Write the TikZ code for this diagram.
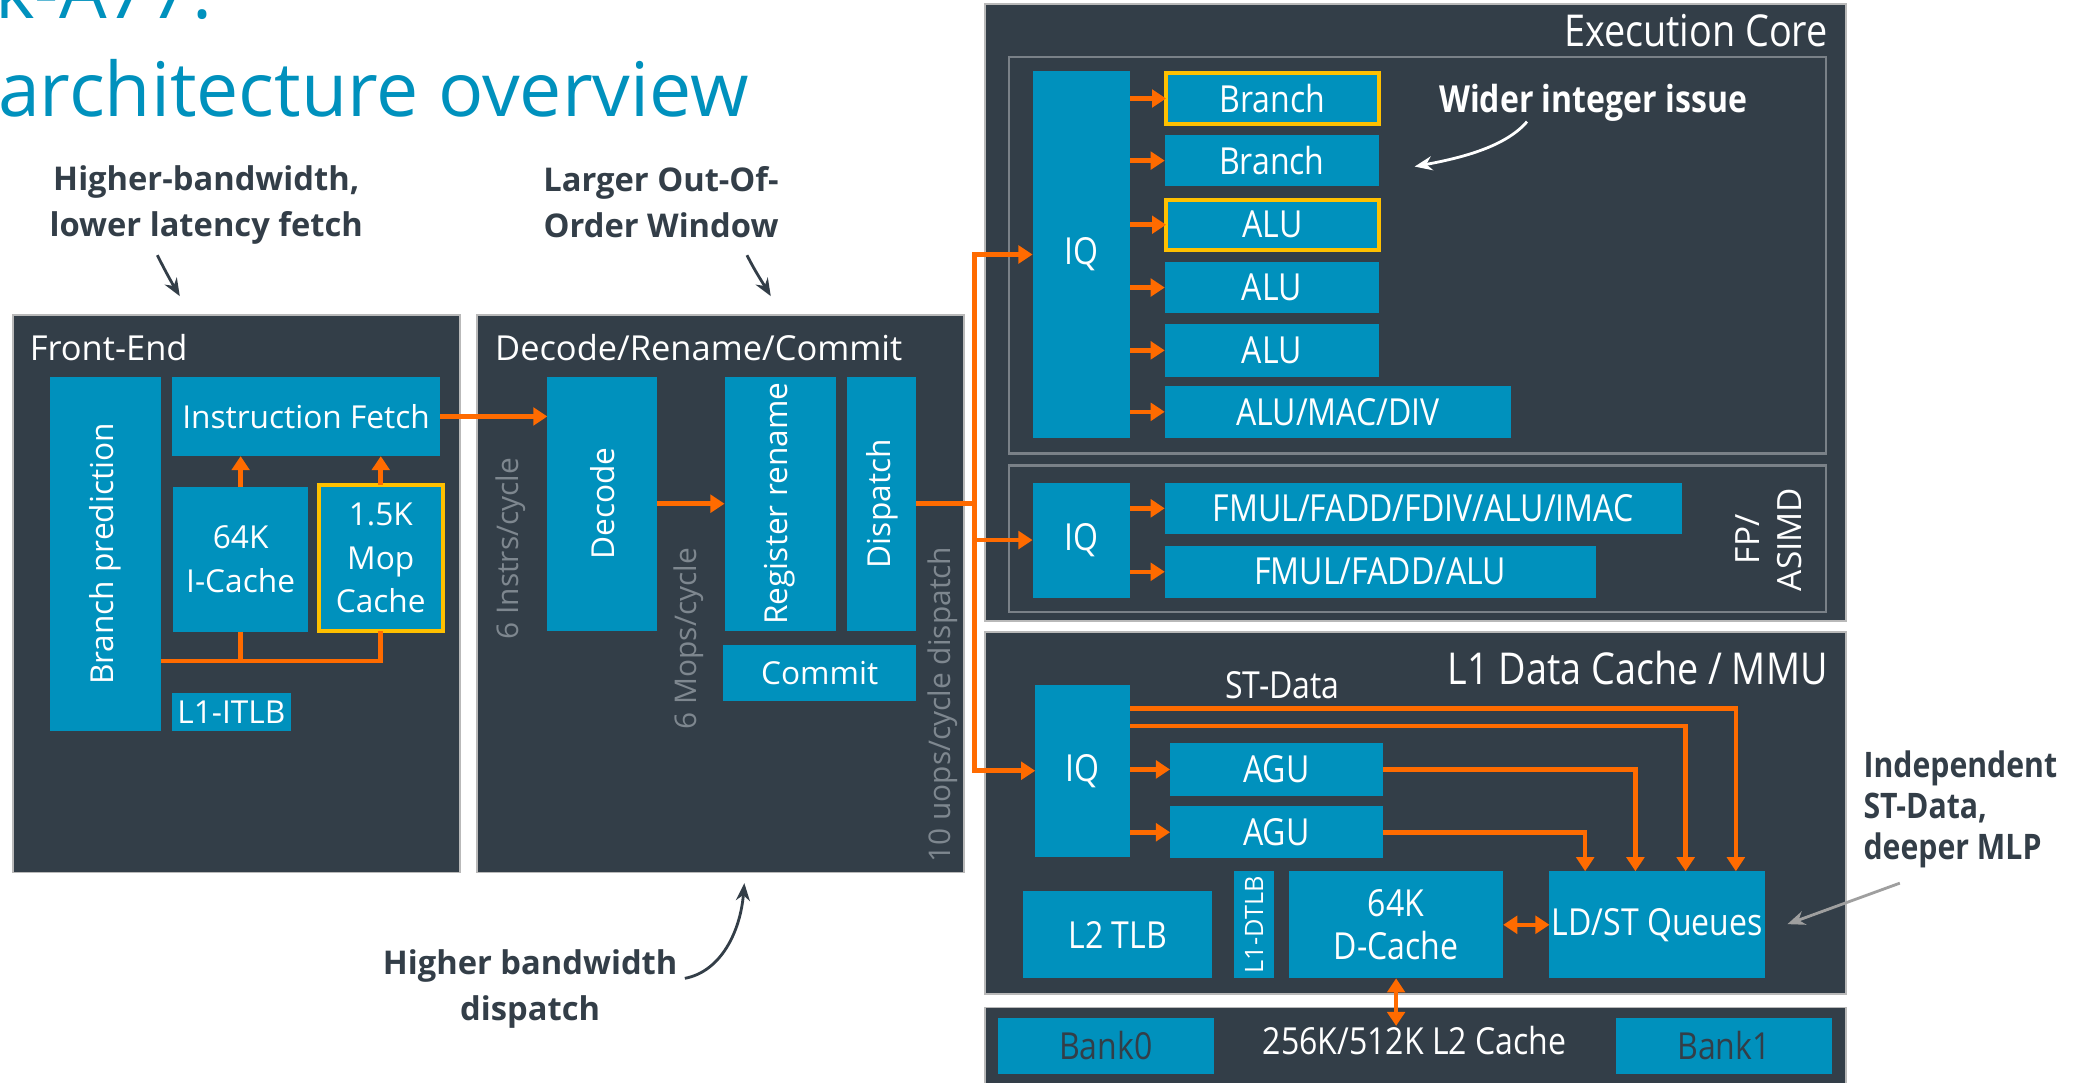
\documentclass[tikz,border=0pt]{standalone}
\usepackage{fontspec}
\setmainfont{Open Sans}
\newfontfamily\cnd{Open Sans}[FakeStretch=0.86]
\usetikzlibrary{arrows.meta}
\definecolor{dk}{HTML}{333E48}
\definecolor{bl}{HTML}{0091BD}
\definecolor{og}{HTML}{FF6B00}
\definecolor{yl}{HTML}{FFC000}
\definecolor{gt}{HTML}{7E878F}
\definecolor{ib}{HTML}{7A8188}
\newdimen\un \un=0.1322mm
\newcommand\fs[2]{\fontsize{#1}{#2}\selectfont}
\newcommand\bx[7][blk]{\node[#1, minimum width={(#5-#3)*\un}, minimum height={(#6-#4)*\un}] (#2) at ({(#3+#5)/2},{(#4+#6)/2}) {#7};}
\tikzset{
 panel/.style={fill=dk, draw=gray!55, line width=0.5pt, inner sep=0pt, outer sep=0pt},
 blk/.style={fill=bl, text=white, inner sep=0pt, outer sep=0pt, align=center},
 hl/.style={draw=yl, line width=1.1pt},
 lt/.style={font=\fs{9}{12.4}},
 rt/.style={font=\cnd\fs{10.6}{12.4}},
 oline/.style={draw=og, line width=1.3pt},
 oarr/.style={oline, -{Triangle[length=4pt,width=5pt]}},
 odbl/.style={oline, {Triangle[length=4pt,width=5pt]}-{Triangle[length=4pt,width=5pt]}},
 ann/.style={draw=dk, line width=0.8pt, -{Stealth[length=5pt,width=4pt]}},
 note/.style={text=dk, font=\bfseries\fs{9.3}{13.2}, align=center, inner sep=0pt},
 innerbox/.style={draw=ib, line width=0.7pt, inner sep=0pt, outer sep=0pt},
 ptitle/.style={text=white, font=\fs{9.8}{12}, inner sep=0pt},
 rotlab/.style={text=gt, rotate=90, font=\fs{8.5}{10}, inner sep=0pt},
 rotw/.style={text=white, rotate=90, inner sep=0pt, align=center},
}
\begin{document}
\begin{tikzpicture}[x=0.1322mm,y=-0.1322mm]
\useasboundingbox (0,0) rectangle (1568,819);
\clip (0,0) rectangle (1568,819);
\fill[white] (0,0) rectangle (1568,819);

% title
\node[anchor=base west, inner sep=0pt, text=bl, font=\fs{21.4}{25}] (t1) at (-4,14) {k-A77:};
\node[anchor=base west, inner sep=0pt, text=bl, font=\fs{21.4}{25}] (t2) at (-2,88) {architecture overview};

% panels
\bx[panel]{fe}{10}{238}{348}{660}{}
\bx[panel]{drc}{361}{238}{729}{660}{}
\bx[panel]{ec}{745}{3}{1396}{470}{}
\bx[panel]{l1}{745}{478}{1396}{752}{}
\bx[panel]{l2}{745}{762}{1396}{840}{}

\node[ptitle, anchor=west] (fet) at (22,263) {Front-End};
\node[ptitle, anchor=west] (drct) at (374,263) {Decode/Rename/Commit};
\node[ptitle, anchor=east, font=\cnd\fs{12.5}{14}] (ect) at (1383,23) {Execution Core};
\node[ptitle, anchor=east, font=\cnd\fs{12.5}{14}] (l1t) at (1383,505) {L1 Data Cache / MMU};

% front-end
\bx{bp}{38}{285}{122}{553}{}
\node[rotw, font=\fs{9}{11}] (bpt) at (bp) {Branch prediction};
\bx[blk,lt]{ifetch}{130}{285}{333}{345}{Instruction Fetch}
\bx[blk,lt]{ic}{131}{368}{233}{478}{64K\\I-Cache}
\bx[blk,lt,hl]{mop}{241}{367}{335}{477}{1.5K\\Mop\\Cache}
\bx[blk,lt]{itlb}{130}{524}{220}{553}{L1-ITLB}

\coordinate (y500) at (0,500);
\draw[oline] (bp.east |- y500) -| (mop.south);
\draw[oline] (ic.south) -- (ic.south |- y500);
\draw[oarr] (ic.north) -- (ic.north |- ifetch.south);
\draw[oarr] (mop.north) -- (mop.north |- ifetch.south);

% decode / rename / commit
\bx{dec}{414}{285}{497}{477}{}
\node[rotw, font=\fs{9}{11}] (dect) at (dec) {Decode};
\bx{rr}{548}{285}{632}{477}{}
\node[rotw, font=\fs{9}{11}] (rrt) at (rr) {Register rename};
\bx{disp}{641}{285}{693}{477}{}
\node[rotw, font=\fs{9}{11}] (dispt) at (disp) {Dispatch};
\bx[blk,lt]{com}{547}{488}{693}{530}{Commit}
\node[rotlab] (l6i) at (386,415) {6 Instrs/cycle};
\node[rotlab] (l6m) at (521,483) {6 Mops/cycle};
\node[rotlab] (l10) at (713,533) {10 uops/cycle dispatch};

\draw[oarr] (ifetch.east) -- (ifetch.east -| dec.west);
\draw[oarr] (dec.east) -- (rr.west);

% execution core
\bx[innerbox]{intbox}{763}{43}{1381}{343}{}
\bx[innerbox]{fpbox}{763}{352}{1381}{463}{}
\bx[blk,rt]{iq1}{781}{54}{855}{331}{IQ}
\bx[blk,rt,hl]{br1}{882}{55}{1043}{94}{Branch}
\bx[blk,rt]{br2}{881}{102}{1043}{141}{Branch}
\bx[blk,rt,hl]{alu1}{882}{151}{1043}{189}{ALU}
\bx[blk,rt]{alu2}{881}{198}{1043}{237}{ALU}
\bx[blk,rt]{alu3}{881}{245}{1043}{285}{ALU}
\bx[blk,rt]{amd}{881}{292}{1143}{331}{ALU/MAC/DIV}
\foreach \n in {br1,br2,alu1,alu2,alu3,amd} \draw[oarr] (iq1.east |- \n.west) -- (\n.west);

\node[text=white, font=\cnd\bfseries\fs{10.6}{12}, inner sep=0pt] (wii) at (1205,78) {Wider integer issue};
\coordinate (wa) at (1155,92);
\coordinate (wb) at (1070,126);
\draw[white, line width=0.8pt, -{Stealth[length=5pt,width=4pt]}] (wa) .. controls (1138,112) and (1102,120) .. (wb);

\bx[blk,rt]{iq2}{781}{365}{855}{452}{IQ}
\bx[blk,rt]{fp1}{881}{365}{1272}{404}{FMUL/FADD/FDIV/ALU/IMAC}
\bx[blk,rt]{fp2}{881}{413}{1207}{452}{FMUL/FADD/ALU}
\foreach \n in {fp1,fp2} \draw[oarr] (iq2.east |- \n.west) -- (\n.west);
\node[rotw, font=\fs{9.5}{12}] (fpl) at (1338,408) {FP/\\ASIMD};

% L1 data cache
\node[text=white, rt, inner sep=0pt] (std) at (970,518) {ST-Data};
\bx[blk,rt]{iq3}{783}{518}{855}{648}{IQ}
\bx[blk,rt]{agu1}{885}{562}{1046}{602}{AGU}
\bx[blk,rt]{agu2}{885}{610}{1046}{649}{AGU}
\foreach \n in {agu1,agu2} \draw[oarr] (iq3.east |- \n.west) -- (\n.west);
\bx[blk,rt]{l2tlb}{774}{674}{917}{740}{L2 TLB}
\bx{dtlb}{933}{659}{964}{740}{}
\node[rotw, font=\fs{7.2}{9}] (dtlbt) at (dtlb) {L1-DTLB};
\bx[blk,rt]{dc}{975}{659}{1137}{740}{64K\\D-Cache}
\bx[blk,rt]{lsq}{1172}{659}{1335}{740}{LD/ST Queues}

\coordinate (s1) at (1313,536);
\coordinate (s2) at (1275,549);
\coordinate (s3) at (1237,600);
\coordinate (s4) at (1199,600);
\draw[oarr] (iq3.east |- s1) -| (s1 |- lsq.north);
\draw[oarr] (iq3.east |- s2) -| (s2 |- lsq.north);
\draw[oarr] (agu1.east) -| (s3 |- lsq.north);
\draw[oarr] (agu2.east) -| (s4 |- lsq.north);
\draw[odbl] (dc.east) -- (lsq.west);
\coordinate (l2a) at (1057,776);
\draw[odbl] (dc.south) -- (dc.south |- l2a);

% L2
\bx[blk,rt,text=dk]{bank0}{755}{770}{918}{812}{Bank0}
\bx[blk,rt,text=dk]{bank1}{1222}{770}{1386}{812}{Bank1}
\node[text=white, rt, inner sep=0pt] (l2c) at (1070,787) {256K/512K L2 Cache};

% dispatch bus
\coordinate (busx) at (737,0);
\draw[oline] (disp.east) -- (disp.east -| busx);
\draw[oline, line cap=rect] (busx |- iq1.west) -- (busx |- iq3.west);
\draw[oarr] (busx |- iq1.west) -- (iq1.west);
\draw[oarr] (busx |- iq2.west) -- (iq2.west);
\draw[oarr] (busx |- iq3.west) -- (iq3.west);

% annotations
\node[note] (n1) at (156,155) {Higher-bandwidth,\\lower latency fetch};
\node[note] (n2) at (500,153) {Larger Out-Of-\\Order Window};
\node[note] (n3) at (401,748) {Higher bandwidth\\dispatch};
\node[note, align=left, anchor=west, font=\cnd\bfseries\fs{10}{11.7}] (n4) at (1409,612) {Independent\\ST-Data,\\deeper MLP};

\coordinate (a1s) at (119,193); \coordinate (a1e) at (136,224);
\draw[ann] (a1s) .. controls (125,205) and (130,214) .. (a1e);
\coordinate (a2s) at (565,193); \coordinate (a2e) at (583,224);
\draw[ann] (a2s) .. controls (571,205) and (577,214) .. (a2e);
\coordinate (a3s) at (518,740); \coordinate (a3e) at (563,668);
\draw[ann] (a3s) .. controls (545,735) and (560,705) .. (a3e);
\coordinate (a4s) at (1437,668); \coordinate (a4e) at (1352,699);
\draw[gray!75, line width=0.8pt, -{Stealth[length=5pt,width=4pt]}] (a4s) -- (a4e);
\end{tikzpicture}
\end{document}
